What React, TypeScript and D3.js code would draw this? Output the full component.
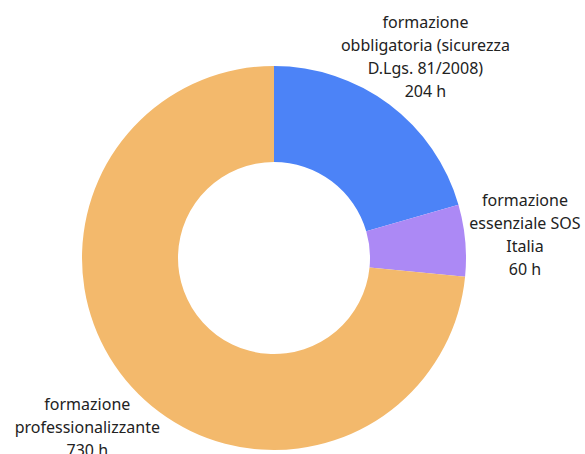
import React from 'react';
import * as d3 from 'd3';

const categories = [
  ['formazione', 'obbligatoria (sicurezza', 'D.Lgs. 81/2008)'],
  ['formazione', 'essenziale SOS', 'Italia'],
  ['formazione', 'professionalizzante'],
];
const hours = [204, 60, 730];
const colors = ['#4c83f7', '#ac89f5', '#f3b96c'];

const width = 585;
const height = 454;
const cx = 274;
const cy = 258;
const outerR = 192;
const innerR = 96;
const labelR = 252;
const lineH = 23;

export default function App() {
  const pie = d3.pie<number>().sort(null).value(d => d);
  const arcs = pie(hours);
  const arc = d3.arc<d3.PieArcDatum<number>>().innerRadius(innerR).outerRadius(outerR);
  const labelArc = d3.arc<d3.PieArcDatum<number>>().innerRadius(labelR).outerRadius(labelR);

  return (
    <svg
      width={width}
      height={height}
      style={{ position: 'absolute', left: 0, top: 0, fontFamily: '"Noto Sans", sans-serif' }}
    >
      <g transform={`translate(${cx},${cy})`}>
        {arcs.map((a, i) => (
          <path key={i} d={arc(a) || ''} fill={colors[i]} />
        ))}
        {arcs.map((a, i) => {
          const [x, y] = labelArc.centroid(a);
          const lines = [...categories[i], `${hours[i]} h`];
          const top = y - ((lines.length - 1) * lineH) / 2;
          return (
            <text key={i} textAnchor="middle" fontSize={16} fill="#222">
              {lines.map((l, j) => (
                <tspan key={j} x={x} y={top + j * lineH} dy="0.35em">
                  {l}
                </tspan>
              ))}
            </text>
          );
        })}
      </g>
    </svg>
  );
}
